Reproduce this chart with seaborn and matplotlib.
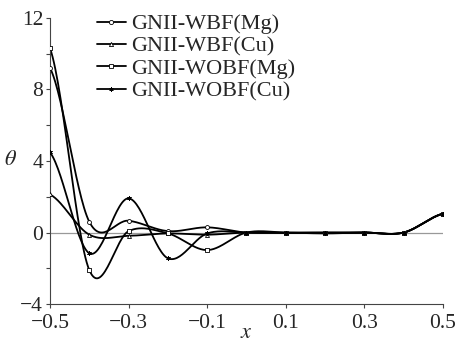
import numpy as np
import pandas as pd
import matplotlib
matplotlib.use("Agg")
import matplotlib.pyplot as plt
from matplotlib.lines import Line2D
import seaborn as sns

x_vals = [-0.5, -0.4, -0.3, -0.2, -0.1, 0.0, 0.1, 0.2, 0.3, 0.4, 0.5]
wbf_mg = [9.2, 0.6, 0.66, 0.08, 0.29, 0.0, 0.0, 0.0, 0.0, 0.0, 1.05]
wbf_cu = [2.13, -0.12, -0.18, -0.05, -0.12, 0.0, -0.02, -0.03, 0.0, 0.0, 1.05]
wobf_mg = [10.3, -2.1, 0.08, -0.05, -0.98, 0.0, 0.0, -0.05, 0.0, 0.0, 1.05]
wobf_cu = [4.48, -1.16, 1.91, -1.44, -0.05, 0.0, -0.02, 0.0, 0.0, 0.0, 1.05]
labels = ["GNII-WBF(Mg)", "GNII-WBF(Cu)", "GNII-WOBF(Mg)", "GNII-WOBF(Cu)"]
markers = ["o", "^", "s", (6, 2, 0)]
series = [wbf_mg, wbf_cu, wobf_mg, wobf_cu]


def smooth(xs, ys, n=30):
    # Catmull-Rom rendering of the line through the data points
    xs = np.asarray(xs, float)
    ys = np.asarray(ys, float)
    px = np.concatenate([[2 * xs[0] - xs[1]], xs, [2 * xs[-1] - xs[-2]]])
    py = np.concatenate([[ys[0]], ys, [ys[-1]]])
    ox, oy = [], []
    t = np.linspace(0, 1, n, endpoint=False)
    for i in range(1, len(px) - 2):
        p0, p1, p2, p3 = py[i - 1], py[i], py[i + 1], py[i + 2]
        yy = 0.5 * ((2 * p1) + (-p0 + p2) * t + (2 * p0 - 5 * p1 + 4 * p2 - p3) * t ** 2
                    + (-p0 + 3 * p1 - 3 * p2 + p3) * t ** 3)
        xx = px[i] + (px[i + 1] - px[i]) * t
        ox.extend(xx)
        oy.extend(yy)
    ox.append(xs[-1])
    oy.append(ys[-1])
    return np.array(ox), np.array(oy)


sns.set_theme(style="white")
plt.rcParams["font.family"] = ["Liberation Serif", "DejaVu Serif"]
plt.rcParams["mathtext.fontset"] = "stix"

fig = plt.figure(figsize=(4.59, 3.44), dpi=100)
ax = fig.add_axes([0.109, 0.116, 0.856, 0.832])

ax.axhline(0, color="#999999", lw=0.9, zorder=1)

handles = []
for ys, lab, mk in zip(series, labels, markers):
    sx, sy = smooth(x_vals, ys)
    sns.lineplot(x=sx, y=sy, ax=ax, color="black", lw=1.3, sort=False,
                 estimator=None, legend=False, zorder=2)
    sns.scatterplot(x=x_vals, y=ys, ax=ax, marker=mk, s=8,
                    facecolor="white" if mk != (6, 2, 0) else "black",
                    edgecolor="black", linewidth=0.6, legend=False, zorder=3)
    handles.append(Line2D([0], [0], color="black", lw=1.3, marker=mk,
                          markersize=3, markerfacecolor="white",
                          markeredgecolor="black", markeredgewidth=0.6))

ax.set_xlim(-0.5, 0.5)
ax.set_ylim(-4, 12)
ax.set_xticks([-0.5, -0.3, -0.1, 0.1, 0.3, 0.5])
ax.set_xticklabels(["\u22120.5", "\u22120.3", "\u22120.1", "0.1", "0.3", "0.5"])
ax.set_yticks([-4, 0, 4, 8, 12])
ax.set_yticklabels(["\u22124", "0", "4", "8", "12"])
ax.set_yticks([-2, 2, 6, 10], minor=True)
ax.tick_params(axis="both", which="both", direction="out", color="#444444",
               labelsize=15.5)
ax.tick_params(axis="x", which="major", length=3, width=0.8, bottom=True, pad=4)
ax.tick_params(axis="y", which="major", length=3, width=0.8, left=True, pad=2)
ax.tick_params(axis="y", which="minor", length=3, width=0.8, left=True)

for side in ["top", "right"]:
    ax.spines[side].set_visible(False)
for side in ["left", "bottom"]:
    ax.spines[side].set_color("#444444")
    ax.spines[side].set_linewidth(0.8)

ax.set_xlabel("$x$", fontsize=16, labelpad=-6)
ax.set_ylabel("$\\theta$", fontsize=16, rotation=0, labelpad=7, va="center")

ax.legend(handles, labels, loc="upper left", bbox_to_anchor=(0.097, 1.045),
          frameon=False, fontsize=16, handlelength=1.3, handletextpad=0.25,
          labelspacing=0.08, borderaxespad=0)

fig.savefig("out.png", dpi=100)
